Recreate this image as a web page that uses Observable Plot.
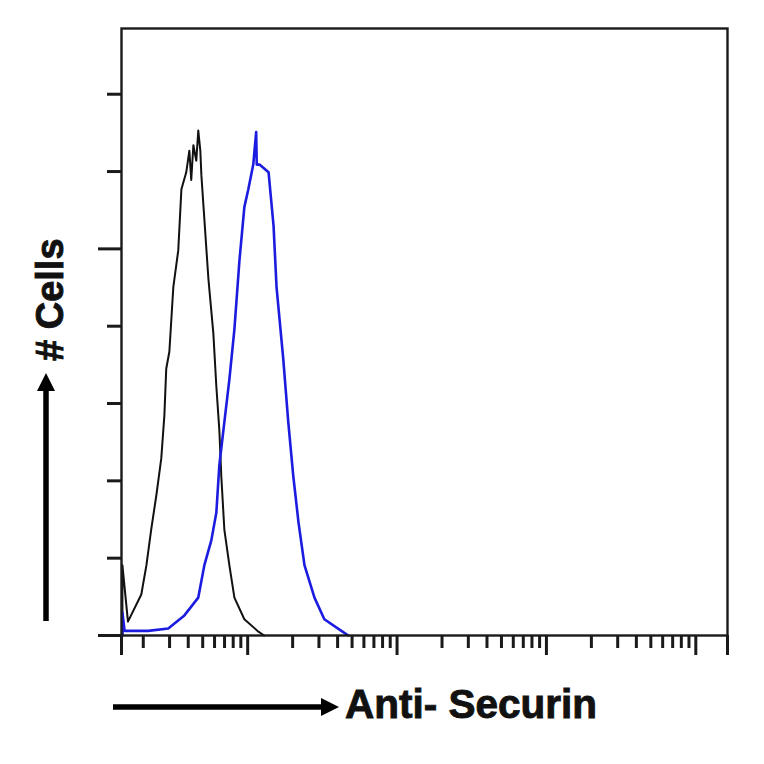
<!DOCTYPE html>
<html>
<head>
<meta charset="utf-8">
<script src="https://cdn.jsdelivr.net/npm/d3@7"></script>
<script src="https://cdn.jsdelivr.net/npm/@observablehq/plot@0.6"></script>
<style>
  body { margin: 0; background: #fff; }
  #wrap { position: relative; width: 764px; height: 764px; background: #fff; }
  #overlay { position: absolute; left: 0; top: 0; pointer-events: none; }
</style>
</head>
<body>
<div id="wrap"></div>
<script>
// Control (isotype) histogram – black
const blackX = [1.45, 1.45, 1.58, 1.94, 2.10, 2.26, 2.45, 2.64, 2.77, 2.85, 2.99, 3.18, 3.43, 3.60, 3.88, 4.07, 4.19, 4.33, 4.53, 4.67, 4.82, 4.90, 5.46, 5.89, 6.17, 6.46, 6.66, 6.98, 7.54, 8.15, 9.50, 11.8, 12.9];
const blackY = [0, 9.1, 1.8, 5.3, 9.1, 13.7, 18.2, 22.9, 28.5, 34.5, 36.7, 45.1, 49.8, 57.7, 59.9, 62.7, 58.9, 63.4, 61.4, 65.3, 62.7, 59.5, 46.1, 39.1, 32.2, 26.6, 20.6, 13.7, 9.1, 4.9, 2.1, 0.5, 0];
// Anti-Securin stained histogram – blue
const blueX = [1.45, 1.45, 1.50, 2.16, 2.94, 3.77, 4.67, 5.13, 5.71, 6.17, 6.46, 6.98, 7.54, 8.15, 8.80, 9.50, 10.1, 10.9, 11.4, 11.5, 12.0, 13.8, 14.9, 15.6, 17.3, 18.7, 20.2, 21.9, 24.0, 28.0, 32.6, 42.4, 47.2];
const blueY = [0, 3.0, 0.6, 0.6, 0.9, 2.6, 4.9, 9.1, 12.3, 15.9, 22.0, 27.6, 33.1, 39.6, 48.4, 55.4, 57.7, 60.9, 65.1, 60.9, 60.9, 59.9, 53.0, 45.1, 35.8, 27.6, 20.6, 14.6, 9.1, 4.9, 2.1, 0.6, 0];

const xDomain = [1.43, 16300];
const yDomain = [0, 78.5];
const xMajorTicks = [10, 100, 1000, 10000];
const xDecades = [1, 10, 100, 1000];
const xMinorMultipliers = [2, 3, 4, 5, 6, 7, 8, 9];
const yMinorTicks = [10, 20, 30, 40, 60, 70];
const yMajorTicks = [0, 50];
const xLabel = "Anti- Securin";
const yLabel = "# Cells";

const black = blackX.map((x, i) => ({x, y: blackY[i]}));
const blue = blueX.map((x, i) => ({x, y: blueY[i]}));
const xMinorTicks = xDecades.flatMap(d => xMinorMultipliers.map(m => m * d)).filter(v => v > xDomain[0] && v < xDomain[1]);
const xEdgeTicks = [...xMajorTicks, ...xDomain];

const none = () => "";
const chart = Plot.plot({
  width: 764,
  height: 660,
  marginLeft: 121,
  marginRight: 37,
  marginTop: 28,
  marginBottom: 25,
  x: {type: "log", domain: xDomain},
  y: {domain: yDomain},
  style: {background: "#fff"},
  marks: [
    Plot.axisX(xMinorTicks, {tickSize: 13, tickFormat: none, label: null, stroke: "#1a1a1a", strokeWidth: 3}),
    Plot.axisX(xEdgeTicks, {tickSize: 20, tickFormat: none, label: null, stroke: "#1a1a1a", strokeWidth: 3}),
    Plot.axisY(yMinorTicks, {tickSize: 14, tickFormat: none, label: null, stroke: "#1a1a1a", strokeWidth: 3}),
    Plot.axisY(yMajorTicks, {tickSize: 23, tickFormat: none, label: null, stroke: "#1a1a1a", strokeWidth: 3}),
    Plot.line(black, {x: "x", y: "y", stroke: "#111", strokeWidth: 2}),
    Plot.line(blue, {x: "x", y: "y", stroke: "#1c1ce0", strokeWidth: 2.6}),
    Plot.frame({stroke: "#1a1a1a", strokeWidth: 2.4})
  ]
});
const wrap = document.getElementById("wrap");
wrap.appendChild(chart);

// Decorative axis titles with arrows (outside the plot area)
const ns = "http://www.w3.org/2000/svg";
const ov = document.createElementNS(ns, "svg");
ov.setAttribute("id", "overlay");
ov.setAttribute("width", 764);
ov.setAttribute("height", 764);
ov.innerHTML = `
  <line x1="113" y1="707" x2="324" y2="707" stroke="#000" stroke-width="5.5"/>
  <polygon points="339,707 321,698 321,716" fill="#000"/>
  <text x="345" y="718" font-family="Liberation Sans, Arial, sans-serif" font-weight="bold" font-size="40.5" fill="#111" stroke="#111" stroke-width="0.9">${xLabel}</text>
  <line x1="46" y1="621" x2="46" y2="389" stroke="#000" stroke-width="5.5"/>
  <polygon points="46,373 37,391 55,391" fill="#000"/>
  <text transform="translate(63,361) rotate(-90)" font-family="Liberation Sans, Arial, sans-serif" font-weight="bold" font-size="38" fill="#111" stroke="#111" stroke-width="0.9">${yLabel}</text>
`;
wrap.appendChild(ov);
</script>
</body>
</html>
